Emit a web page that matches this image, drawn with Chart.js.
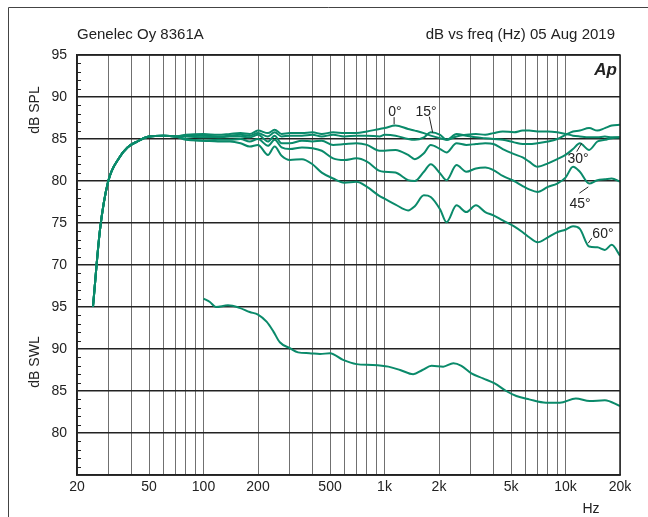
<!DOCTYPE html>
<html>
<head>
<meta charset="utf-8">
<script src="https://cdn.jsdelivr.net/npm/chart.js@4.4.1/dist/chart.umd.min.js"></script>
<style>
  html, body { margin: 0; padding: 0; background: #fff; }
</style>
</head>
<body>
<canvas id="fr" width="648" height="517"></canvas>
<script>
// frequency grid (Hz) shared by the five off-axis SPL curves
const freqHz = [24.5, 26.8, 29.7, 34.3, 38, 43, 50, 60, 70, 80, 100, 120, 140, 160, 180, 200, 227, 247, 270, 300,
  350, 400, 450, 520, 600, 700, 800, 940, 1000, 1150, 1350, 1470, 1650, 1800, 2030, 2200, 2500, 2830, 3200, 3600,
  4000, 4500, 5200, 5800, 6300, 7000, 8000, 9000, 10000, 11000, 12000, 13500, 15000, 16500, 18000, 20000];

const lowEnd = [65, 74.2, 79.9, 82.8, 84, 84.7, 85.3, 85.4, 85.3];

const spl0 = lowEnd.concat([85.5, 85.6, 85.5, 85.6, 85.7, 85.6, 86.0, 85.7, 86.1, 85.6, 85.7, 85.7, 85.8, 85.6, 85.8,
  85.7, 85.7, 85.9, 86.2, 86.3, 86.6, 86.2, 86.0, 85.7, 85.4, 85.1, 84.9, 85.3, 85.5, 85.6, 85.5, 85.7, 85.9, 85.8,
  86.0, 86.0, 85.9, 85.9, 85.8, 85.6, 85.4, 85.3, 85.2, 85.2, 85.3, 85.2, 85.2]);
const spl15 = lowEnd.concat([85.4, 85.4, 85.3, 85.4, 85.5, 85.4, 85.7, 85.3, 85.8, 85.3, 85.4, 85.4, 85.5, 85.3, 85.5,
  85.3, 85.4, 85.4, 85.3, 85.5, 85.4, 85.0, 84.9, 85.2, 85.8, 85.5, 84.9, 85.6, 85.4, 85.2, 85.1, 85.0, 84.9, 84.6,
  84.4, 84.4, 84.5, 84.7, 85.0, 85.5, 85.9, 86.0, 86.3, 86.0, 86.3, 86.6, 86.7]);
const spl30 = lowEnd.concat([85.3, 85.2, 85.2, 85.3, 85.3, 85.2, 85.5, 84.7, 85.4, 84.5, 84.5, 84.8, 84.7, 84.8, 84.3,
  84.4, 84.5, 84.3, 83.6, 83.6, 83.7, 83.1, 82.6, 83.3, 84.3, 83.8, 83.4, 84.5, 84.3, 84.4, 84.5, 84.4, 83.8, 83.2,
  82.8, 82.3, 81.7, 82.1, 82.6, 83.1, 83.8, 84.5, 83.7, 84.7, 84.9, 85.1, 85.2]);
const spl45 = lowEnd.concat([85.0, 84.8, 84.9, 84.9, 85.0, 84.7, 85.0, 84.2, 84.9, 84.0, 83.8, 84.0, 83.9, 83.6, 82.7,
  82.5, 82.7, 82.3, 81.2, 81.1, 81.0, 80.1, 80.0, 81.1, 82.0, 80.9, 80.1, 81.9, 81.1, 81.5, 81.6, 81.3, 80.6, 80.0,
  79.4, 79.0, 78.7, 79.3, 79.7, 80.4, 81.7, 81.1, 79.7, 80.1, 80.2, 80.3, 79.9]);
const spl60 = lowEnd.concat([84.9, 84.8, 84.7, 84.7, 84.5, 84.1, 84.3, 83.1, 84.1, 83.0, 82.5, 82.6, 82.0, 81.0, 80.3,
  79.8, 79.9, 79.3, 78.2, 77.9, 77.2, 76.5, 77.0, 78.3, 78.1, 76.6, 75.1, 77.1, 76.3, 77.1, 76.3, 75.9, 75.3, 74.6,
  73.9, 73.3, 72.7, 73.3, 73.9, 74.2, 74.6, 74.3, 72.2, 72.1, 71.8, 72.4, 71.1]);

// sound power level, drawn in the lower panel
const swlFreq = [100, 108.5, 117, 136.5, 158, 180, 200, 223, 243, 264, 300, 333, 385, 440, 500, 590, 700, 860, 1050,
  1220, 1440, 1620, 1820, 2110, 2400, 2660, 3020, 3500, 4060, 4700, 5350, 6300, 7800, 9300, 11400, 13600, 16500, 20000];
const swl = [96.0, 95.6, 95.0, 95.2, 94.9, 94.4, 94.1, 93.25, 92.1, 90.8, 90.1, 89.6, 89.5, 89.4, 89.5, 88.7, 88.2,
  88.1, 87.9, 87.5, 87.0, 87.5, 88.0, 87.9, 88.3, 88.0, 87.1, 86.5, 85.9, 85.0, 84.4, 84.0, 83.6, 83.6, 84.1, 83.8,
  83.9, 83.2];
const SWL_OFFSET = 30; // lower panel reads 30 dB above the shared axis

const xGrid = [20, 30, 40, 50, 60, 70, 80, 90, 100, 200, 300, 400, 500, 600, 700, 800, 900, 1000, 2000, 3000, 4000,
  5000, 6000, 7000, 8000, 9000, 10000, 20000];
const xLabelValues = [20, 50, 100, 200, 500, 1000, 2000, 5000, 10000, 20000];
const xLabelText = ['20', '50', '100', '200', '500', '1k', '2k', '5k', '10k', '20k'];
const yGrid = [45, 50, 55, 60, 65, 70, 75, 80, 85, 90, 95];

const angleText = ['0°', '15°', '30°', '45°', '60°'];
const angleFreq = [1142, 1696, 11720, 12020, 16100];
const angleDb = [88.2, 88.2, 82.6, 77.3, 73.7];
const leadFromF = [1130, 1768, 11530, 11920, 13360];
const leadFromDb = [87.6, 87.65, 83.5, 78.55, 72.6];
const leadToF = [1130, 1846, 12280, 13360, 13960];
const leadToDb = [86.75, 85.75, 84.5, 79.3, 73.2];

const FONT = '"Liberation Sans", Arial, sans-serif';
const INK = '#222';
const CURVE = '#0a8a6a';

const pts = (xs, ys, off = 0) => xs.map((f, i) => ({ x: f, y: ys[i] - off }));
const curve = (data) => ({
  data, borderColor: CURVE, borderWidth: 2, pointRadius: 0,
  cubicInterpolationMode: 'monotone', fill: false
});

function yLabel(v) {
  if (v >= 70) return String(v);
  if (v >= 50) return String(v + SWL_OFFSET);
  return '';
}

const decor = {
  id: 'decor',
  afterDraw(chart) {
    const { ctx, chartArea: a, scales: { x, y } } = chart;
    ctx.save();

    // outer sheet border
    ctx.strokeStyle = '#444';
    ctx.lineWidth = 1;
    ctx.beginPath();
    ctx.moveTo(8.5, chart.height);
    ctx.lineTo(8.5, 7.5);
    ctx.lineTo(chart.width, 7.5);
    ctx.stroke();

    // plot frame
    ctx.strokeStyle = INK;
    ctx.lineWidth = 1.5;
    ctx.strokeRect(a.left, a.top, a.right - a.left, a.bottom - a.top);

    // 1 dB minor ticks inside the left axis
    ctx.lineWidth = 1;
    ctx.beginPath();
    for (let v = 46; v < 95; v++) {
      if (v % 5 === 0) continue;
      const py = Math.round(y.getPixelForValue(v)) + 0.5;
      ctx.moveTo(a.left, py);
      ctx.lineTo(a.left + 4, py);
    }
    ctx.stroke();

    ctx.fillStyle = INK;
    ctx.font = '15px ' + FONT;
    ctx.textBaseline = 'middle';
    ctx.textAlign = 'left';
    ctx.fillText('Genelec Oy 8361A', a.left, 35);
    ctx.textAlign = 'right';
    ctx.fillText('dB vs freq (Hz) 05 Aug 2019', a.right - 5, 35);

    ctx.font = 'italic bold 17px ' + FONT;
    ctx.fillText('Ap', a.right - 3, a.top + 15);

    ctx.font = '14px ' + FONT;
    ctx.textAlign = 'center';
    ctx.fillText('Hz', a.right - 29, chart.height - 8);

    // rotated panel titles
    [['dB SPL', 110], ['dB SWL', 362]].forEach(([t, cy]) => {
      ctx.save();
      ctx.translate(35, cy);
      ctx.rotate(-Math.PI / 2);
      ctx.fillText(t, 0, 0);
      ctx.restore();
    });

    // angle labels with leader lines
    ctx.lineWidth = 1;
    ctx.strokeStyle = INK;
    angleText.forEach((t, i) => {
      ctx.fillText(t, x.getPixelForValue(angleFreq[i]), y.getPixelForValue(angleDb[i]));
      ctx.beginPath();
      ctx.moveTo(x.getPixelForValue(leadFromF[i]), y.getPixelForValue(leadFromDb[i]));
      ctx.lineTo(x.getPixelForValue(leadToF[i]), y.getPixelForValue(leadToDb[i]));
      ctx.stroke();
    });

    ctx.restore();
  }
};

new Chart(document.getElementById('fr'), {
  type: 'line',
  data: {
    datasets: [
      curve(pts(freqHz, spl0)),
      curve(pts(freqHz, spl15)),
      curve(pts(freqHz, spl30)),
      curve(pts(freqHz, spl45)),
      curve(pts(freqHz, spl60)),
      curve(pts(swlFreq, swl, SWL_OFFSET))
    ]
  },
  options: {
    responsive: false,
    animation: false,
    layout: { padding: { top: 55, right: 28, left: 0, bottom: 0 } },
    plugins: { legend: { display: false }, tooltip: { enabled: false } },
    scales: {
      x: {
        type: 'logarithmic',
        min: 20,
        max: 20000,
        afterBuildTicks: (s) => { s.ticks = xGrid.map((v) => ({ value: v })); },
        afterFit: (s) => { s.height = 42; },
        grid: { color: '#707070', lineWidth: 1, drawTicks: false },
        border: { color: INK, width: 1.5 },
        ticks: {
          autoSkip: false,
          maxRotation: 0,
          padding: 4,
          color: INK,
          font: { family: FONT, size: 14 },
          callback: (v) => {
            const i = xLabelValues.indexOf(v);
            return i >= 0 ? xLabelText[i] : '';
          }
        }
      },
      y: {
        type: 'linear',
        min: 45,
        max: 95,
        afterBuildTicks: (s) => { s.ticks = yGrid.map((v) => ({ value: v })); },
        afterFit: (s) => { s.width = 77; },
        grid: { color: INK, lineWidth: 1.5, drawTicks: false },
        border: { color: INK, width: 1.5 },
        ticks: {
          padding: 10,
          color: INK,
          font: { family: FONT, size: 14 },
          callback: (v) => yLabel(v)
        }
      }
    }
  },
  plugins: [decor]
});
</script>
</body>
</html>
